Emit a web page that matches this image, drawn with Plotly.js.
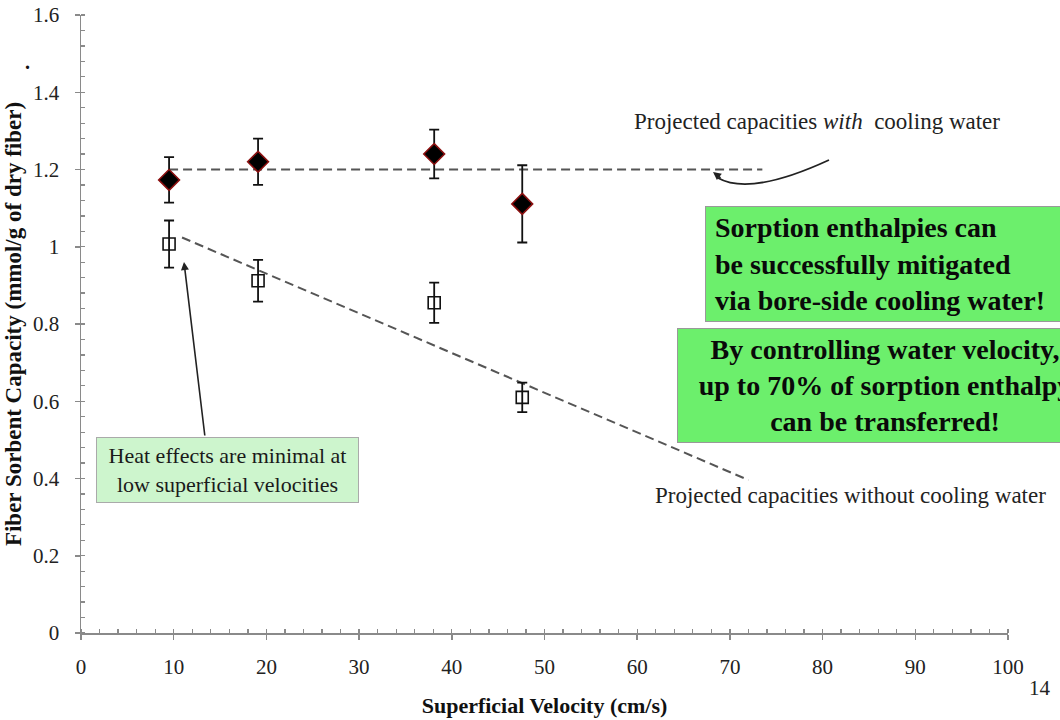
<!DOCTYPE html>
<html>
<head>
<meta charset="utf-8">
<script src="https://cdn.plot.ly/plotly-3.0.1.min.js"></script>
<style>html,body{margin:0;padding:0;background:#fff;}#chart{width:1060px;height:720px;}</style>
</head>
<body>
<div id="chart"></div>
<script>
// ---- data ----
const velocity = [9.5, 19.1, 38.1, 47.6];            // cm/s
const capacityWithCooling = [1.173, 1.220, 1.240, 1.111];
const errWithCooling = [0.059, 0.060, 0.063, 0.100];
const capacityNoCooling = [1.007, 0.912, 0.855, 0.610];
const errNoCooling = [0.061, 0.054, 0.052, 0.038];
const projWithX = [9.5, 73.5];
const projWithY = [1.2, 1.2];
const projWithoutX = [10.9, 72.0];
const projWithoutY = [1.024, 0.396];
const xTickVals = [0, 10, 20, 30, 40, 50, 60, 70, 80, 90, 100];
const yTickVals = [0, 0.2, 0.4, 0.6, 0.8, 1, 1.2, 1.4, 1.6];
const yTickText = ['0', '0.2', '0.4', '0.6', '0.8', '1', '1.2', '1.4', '1.6'];

const SERIF = '"Liberation Serif", "Times New Roman", serif';
const AXC = '#8a8a8a';

const traces = [
  {x: projWithX, y: projWithY, mode: 'lines', hoverinfo: 'skip',
   line: {color: '#555', width: 2, dash: '9px,5px'}},
  {x: projWithoutX, y: projWithoutY, mode: 'lines', hoverinfo: 'skip',
   line: {color: '#555', width: 2, dash: '9px,5px'}},
  {x: velocity, y: capacityNoCooling, mode: 'markers',
   marker: {symbol: 'square-open', size: 12, color: '#111', line: {width: 1.6, color: '#111'}},
   error_y: {type: 'data', array: errNoCooling, visible: true, color: '#111', thickness: 1.8, width: 5}},
  {x: velocity, y: capacityWithCooling, mode: 'markers',
   marker: {symbol: 'diamond', size: 16, color: '#000', line: {width: 1.6, color: '#8b1010'}},
   error_y: {type: 'data', array: errWithCooling, visible: true, color: '#111', thickness: 1.8, width: 5}}
];

const layout = {
  width: 1060, height: 720,
  margin: {l: 81, r: 52, t: 15, b: 87},
  paper_bgcolor: '#fff', plot_bgcolor: '#fff',
  showlegend: false,
  font: {family: SERIF, color: '#111', size: 20},
  xaxis: {
    range: [0, 100], tickvals: xTickVals, ticks: 'outside', ticklen: 5, tickwidth: 1.5, tickcolor: AXC,
    showline: true, linecolor: AXC, linewidth: 1.5, showgrid: false, zeroline: false,
    tickfont: {family: SERIF, size: 21, color: '#222'}, ticklabelstandoff: 9,
    minor: {dtick: 2, ticks: 'inside', ticklen: 4, tickwidth: 1.3, tickcolor: AXC, showgrid: false},
    title: {text: '<b>Superficial Velocity (cm/s)</b>', font: {family: SERIF, size: 22, color: '#111'}, standoff: 20}
  },
  yaxis: {
    range: [0, 1.6], tickvals: yTickVals, ticktext: yTickText, ticks: 'outside', ticklen: 5, tickwidth: 1.5, tickcolor: AXC,
    showline: true, linecolor: AXC, linewidth: 1.5, showgrid: false, zeroline: false,
    tickfont: {family: SERIF, size: 21, color: '#222'}, ticklabelstandoff: 11,
    minor: {dtick: 0.04, ticks: 'inside', ticklen: 4, tickwidth: 1.3, tickcolor: AXC, showgrid: false},
    title: {text: '<b>Fiber Sorbent Capacity (mmol/g of dry fiber)</b>', font: {family: SERIF, size: 23, color: '#111'}, standoff: 5}
  },
  xaxis2: {overlaying: 'x', anchor: 'y', range: [0, 100], tickvals: xTickVals, ticks: 'inside', ticklen: 5, tickwidth: 1.5,
    tickcolor: AXC, showticklabels: false, showline: false, showgrid: false, zeroline: false},
  yaxis2: {overlaying: 'y', anchor: 'x', range: [0, 1.6], tickvals: yTickVals, ticks: 'inside', ticklen: 5, tickwidth: 1.5,
    tickcolor: AXC, showticklabels: false, showline: false, showgrid: false, zeroline: false},
  shapes: [
    {type: 'path', xref: 'x', yref: 'y',
     path: 'M 80.69 1.2246 C 76.48 1.178, 71.63 1.1388, 68.72 1.178',
     line: {color: '#222', width: 1.8}}
  ],
  annotations: [
    {xref: 'paper', yref: 'paper', x: 0.794, y: 0.827, xanchor: 'center', yanchor: 'middle', showarrow: false,
     text: 'Projected capacities <i>with</i>  cooling water', font: {family: SERIF, size: 23, color: '#222'}},
    {xref: 'paper', yref: 'paper', x: 0.8306, y: 0.2233, xanchor: 'center', yanchor: 'middle', showarrow: false,
     text: 'Projected capacities without cooling water', font: {family: SERIF, size: 23, color: '#222'}},
    {x: 68.18, y: 1.1935, ax: 9, ay: 7, text: '', showarrow: true, arrowhead: 2, arrowsize: 1, arrowwidth: 1.6, arrowcolor: '#222'},
    {x: 11.11, y: 0.9605, ax: 21, ay: 175, text: '', showarrow: true, arrowhead: 2, arrowsize: 1, arrowwidth: 1.6, arrowcolor: '#222'},
    {xref: 'paper', yref: 'paper', x: 0.158, y: 0.2638, xanchor: 'center', yanchor: 'middle', showarrow: false,
     text: 'Heat effects are minimal at<br>low superficial velocities', align: 'center',
     width: 255, height: 58, borderpad: 3, borderwidth: 1, bordercolor: '#aaa', bgcolor: '#cdf5cd',
     font: {family: SERIF, size: 22, color: '#1a1a1a'}},
    {xref: 'paper', yref: 'paper', x: 0.6731, y: 0.6909, xanchor: 'left', yanchor: 'top', showarrow: false,
     text: '<b>&nbsp;Sorption enthalpies can<br>&nbsp;be successfully mitigated<br>&nbsp;via bore-side cooling water!</b>', align: 'left',
     width: 396, height: 110, borderpad: 2, borderwidth: 1, bordercolor: '#999', bgcolor: '#6cef6c',
     font: {family: SERIF, size: 28, color: '#0a0a0a'}},
    {xref: 'paper', yref: 'paper', x: 0.6429, y: 0.4935, xanchor: 'left', yanchor: 'top', showarrow: false,
     text: '<b>By controlling water velocity,<br>up to 70% of sorption enthalpy<br>can be transferred!</b>', align: 'center',
     width: 410, height: 109, borderpad: 2, borderwidth: 1, bordercolor: '#999', bgcolor: '#6cef6c',
     font: {family: SERIF, size: 28, color: '#0a0a0a'}},
    {xref: 'paper', yref: 'paper', x: -0.0572, y: 0.924, xanchor: 'center', yanchor: 'middle', showarrow: false, text: '<b>.</b>',
     font: {family: SERIF, size: 20, color: '#111'}},
    {xref: 'paper', yref: 'paper', x: 1.0345, y: -0.089, xanchor: 'center', yanchor: 'middle', showarrow: false, text: '14',
     font: {family: SERIF, size: 21, color: '#222'}}
  ]
};

Plotly.newPlot('chart', traces, layout, {displayModeBar: false, staticPlot: true});
</script>
</body>
</html>
